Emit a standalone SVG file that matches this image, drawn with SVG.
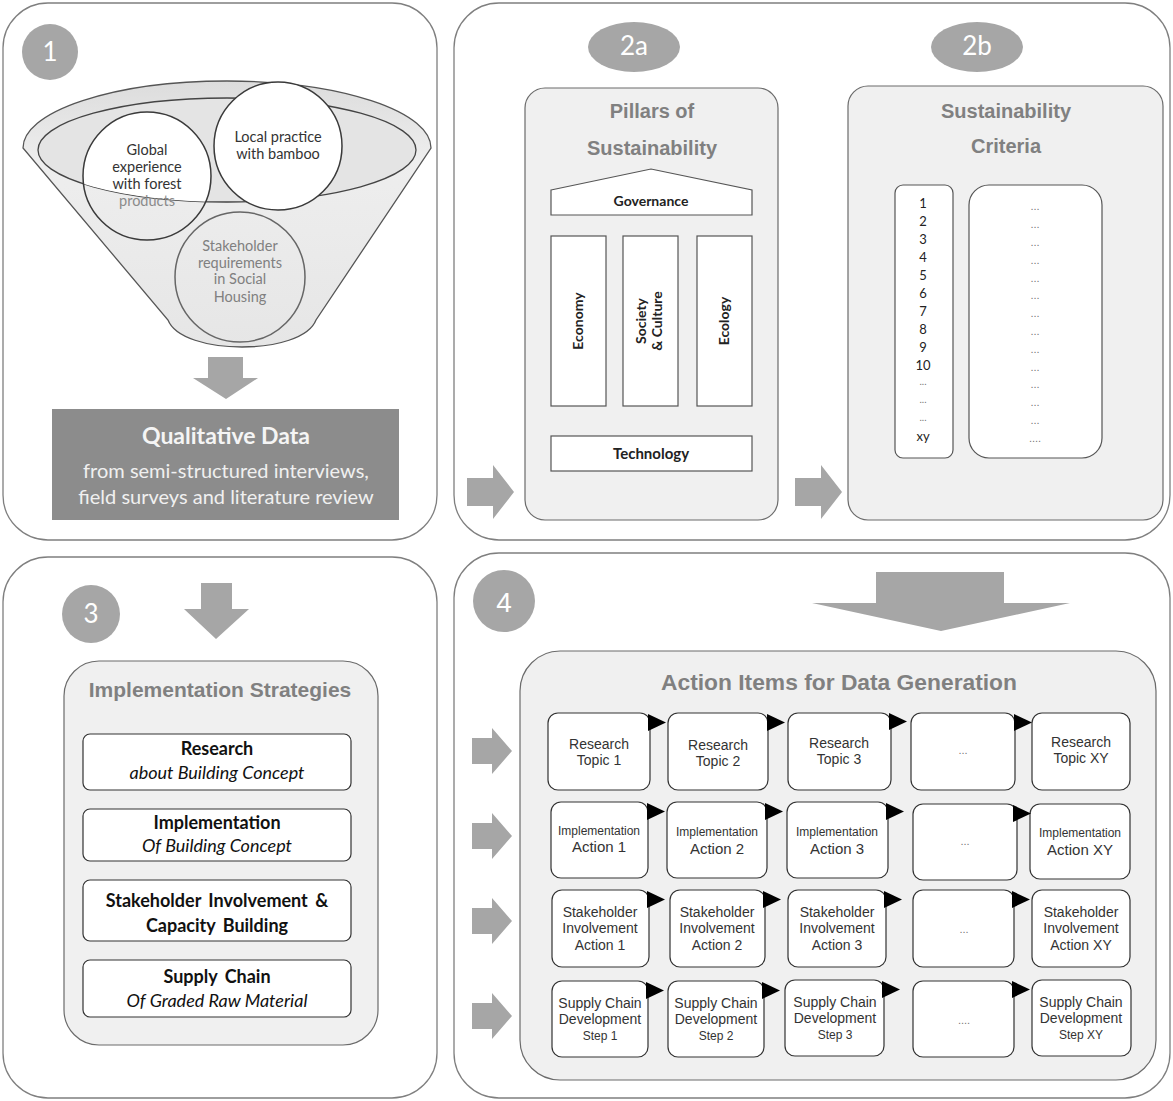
<svg xmlns="http://www.w3.org/2000/svg" width="1173" height="1101" viewBox="0 0 1173 1101">
<defs>
<style>
.panel{fill:#fff;stroke:#7f7f7f;stroke-width:1.3}
.inner{fill:#f0f0f0;stroke:#6b6b6b;stroke-width:1.2}
.badge{fill:#a6a6a6}
.badgeT{fill:#fff;font-family:Lato,"Open Sans",sans-serif;font-size:26px;text-anchor:middle}
.arrow{fill:#a6a6a6}
.title{font-family:"Liberation Sans",Arial,sans-serif;font-weight:bold;fill:#808080;text-anchor:middle}
.wbox{fill:#fff;stroke:#333;stroke-width:1.2}
.cal{font-family:Lato,"Open Sans",sans-serif;text-anchor:middle}
.ar{font-family:"Liberation Sans",Arial,sans-serif;fill:#333;text-anchor:middle;font-size:14px}
.sm{font-size:12px}
.big{font-size:15px}
.dots{font-family:"Liberation Sans",Arial,sans-serif;fill:#777;text-anchor:middle;font-size:11px}
.tri{fill:#000}
.circ{fill:none;stroke:#3a3a3a;stroke-width:1.5}
</style>
<clipPath id="innerClip"><ellipse cx="227" cy="150" rx="189" ry="52"/></clipPath>
<linearGradient id="fun" x1="0" y1="0" x2="0" y2="1">
<stop offset="0" stop-color="#dcdcdc"/>
<stop offset="0.3" stop-color="#eeeeee"/>
<stop offset="1" stop-color="#e6e6e6"/>
</linearGradient>
<path id="arrBig" d="M0,-14 H26 V-27 L47,0 L26,27 V14 H0 Z"/>
<path id="arrSm" d="M0,-13 H20 V-23 L40,0 L20,23 V13 H0 Z"/>
<path id="tri" d="M0,0 V17 L18,8.5 Z"/>
</defs>

<!-- Panel 1 -->
<g id="panel1">
<rect class="panel" x="3" y="3" width="434" height="537" rx="45"/>
<circle class="badge" cx="50" cy="52" r="28"/>
<text class="badgeT" x="50" y="61">1</text>
<path d="M 23,148 A 204,67 0 0 1 431,148 L 316,320 C 302,356 182,356 168,320 Z" fill="url(#fun)" stroke="#555" stroke-width="1.3"/>
<ellipse cx="227" cy="150" rx="189" ry="52" fill="#e4e4e4" stroke="#444" stroke-width="1.3"/>
<circle cx="147" cy="176" r="64" fill="#fff" clip-path="url(#innerClip)"/>
<circle class="circ" cx="147" cy="176" r="64"/>
<circle cx="278" cy="146" r="64" fill="#fff" stroke="#3a3a3a" stroke-width="1.5"/>
<circle cx="240" cy="277" r="65" fill="none" stroke="#666" stroke-width="1.5"/>
<g class="cal" font-size="14.5" fill="#333">
<text x="147" y="155">Global</text>
<text x="147" y="172">experience</text>
<text x="147" y="189">with forest</text>
<text x="147" y="206" fill="#8a8a8a">products</text>
<text x="278" y="142">Local practice</text>
<text x="278" y="159">with bamboo</text>
</g>
<g class="cal" font-size="14.5" fill="#808080">
<text x="240" y="251">Stakeholder</text>
<text x="240" y="268">requirements</text>
<text x="240" y="284">in Social</text>
<text x="240" y="302">Housing</text>
</g>
<path class="arrow" fill="#b3b3b3" d="M208,357 H243 V378 H258 L226,399 L193,378 H208 Z"/>
<rect x="52" y="409" width="347" height="111" fill="#8c8c8c"/>
<text class="cal" x="226" y="444" font-size="23" font-weight="bold" fill="#f5f5f5">Qualitative Data</text>
<text class="cal" x="226" y="478" font-size="20" fill="#f0f0f0">from semi-structured interviews,</text>
<text class="cal" x="226" y="504" font-size="20" fill="#f0f0f0">field surveys and literature review</text>
</g>

<!-- Panel 2 -->
<g id="panel2">
<rect class="panel" x="454" y="3" width="716" height="537" rx="45"/>
<ellipse class="badge" cx="634" cy="47" rx="46" ry="25"/>
<text class="badgeT" x="634" y="55" font-size="22">2a</text>
<ellipse class="badge" cx="977" cy="47" rx="46" ry="25"/>
<text class="badgeT" x="977" y="55" font-size="22">2b</text>
</g>

<g id="pillars">
<rect class="inner" x="525" y="88" width="253" height="432" rx="20"/>
<text class="title" x="652" y="118" font-size="20">Pillars of</text>
<text class="title" x="652" y="155" font-size="20">Sustainability</text>
<polygon points="551,190 651,169 752,190 752,215 551,215" fill="#fff" stroke="#555" stroke-width="1.2"/>
<text class="cal" x="651" y="206" font-size="14" font-weight="bold" fill="#222">Governance</text>
<rect x="551" y="236" width="55" height="170" fill="#fff" stroke="#555" stroke-width="1.2"/>
<rect x="623" y="236" width="55" height="170" fill="#fff" stroke="#555" stroke-width="1.2"/>
<rect x="697" y="236" width="55" height="170" fill="#fff" stroke="#555" stroke-width="1.2"/>
<g class="cal" font-size="14" font-weight="bold" fill="#222">
<text transform="translate(583,321) rotate(-90)">Economy</text>
<text transform="translate(646,321) rotate(-90)">Society</text>
<text transform="translate(662,321) rotate(-90)">&amp; Culture</text>
<text transform="translate(729,321) rotate(-90)">Ecology</text>
</g>
<rect x="551" y="436" width="201" height="35" fill="#fff" stroke="#555" stroke-width="1.2"/>
<text class="cal" x="651" y="459" font-size="15" font-weight="bold" fill="#222">Technology</text>
</g>

<g id="criteria">
<rect class="inner" x="848" y="86" width="315" height="434" rx="20"/>
<text class="title" x="1006" y="118" font-size="20">Sustainability</text>
<text class="title" x="1006" y="153" font-size="20">Criteria</text>
<rect x="895" y="185" width="58" height="273" rx="8" fill="#fff" stroke="#555" stroke-width="1.2"/>
<rect x="969" y="185" width="133" height="273" rx="20" fill="#fff" stroke="#555" stroke-width="1.2"/>
<g class="cal" font-size="13" fill="#222">
<text x="923" y="208">1</text>
<text x="923" y="226">2</text>
<text x="923" y="244">3</text>
<text x="923" y="262">4</text>
<text x="923" y="280">5</text>
<text x="923" y="298">6</text>
<text x="923" y="316">7</text>
<text x="923" y="334">8</text>
<text x="923" y="352">9</text>
<text x="923" y="370">10</text>
<text x="923" y="385" font-size="10" fill="#777">...</text>
<text x="923" y="403" font-size="10" fill="#777">...</text>
<text x="923" y="421" font-size="10" fill="#777">...</text>
<text x="923" y="441">xy</text>
</g>
<g class="dots" font-size="10">
<text x="1035" y="210">...</text>
<text x="1035" y="228">...</text>
<text x="1035" y="246">...</text>
<text x="1035" y="264">...</text>
<text x="1035" y="282">...</text>
<text x="1035" y="299">...</text>
<text x="1035" y="317">...</text>
<text x="1035" y="335">...</text>
<text x="1035" y="353">...</text>
<text x="1035" y="371">...</text>
<text x="1035" y="388">...</text>
<text x="1035" y="406">...</text>
<text x="1035" y="424">...</text>
<text x="1035" y="442">....</text>
</g>
</g>

<!-- Panel 3 -->
<g id="panel3">
<rect class="panel" x="3" y="557" width="434" height="541" rx="45"/>
<circle class="badge" cx="91" cy="614" r="29"/>
<text class="badgeT" x="91" y="623">3</text>
</g>
<g id="strategies">
<rect class="inner" x="64" y="661" width="314" height="384" rx="35"/>
<text class="title" x="220" y="697" font-size="21">Implementation Strategies</text>
<rect class="wbox" x="83" y="734" width="268" height="56" rx="7"/>
<text class="cal" x="217" y="755" font-size="18" font-weight="bold" fill="#111">Research</text>
<text class="cal" x="217" y="779" font-size="18" font-style="italic" fill="#111">about Building Concept</text>
<rect class="wbox" x="83" y="809" width="268" height="52" rx="7"/>
<text class="cal" x="217" y="829" font-size="18" font-weight="bold" fill="#111">Implementation</text>
<text class="cal" x="217" y="852" font-size="18" font-style="italic" fill="#111">Of Building Concept</text>
<rect class="wbox" x="83" y="880" width="268" height="61" rx="7"/>
<text class="cal" x="217" y="907" font-size="18" font-weight="bold" fill="#111" word-spacing="3">Stakeholder Involvement &amp;</text>
<text class="cal" x="217" y="932" font-size="18" font-weight="bold" fill="#111" word-spacing="3">Capacity Building</text>
<rect class="wbox" x="83" y="960" width="268" height="57" rx="7"/>
<text class="cal" x="217" y="983" font-size="18" font-weight="bold" fill="#111" word-spacing="3">Supply Chain</text>
<text class="cal" x="217" y="1007" font-size="18" font-style="italic" fill="#111">Of Graded Raw Material</text>
</g>

<!-- Panel 4 -->
<g id="panel4">
<rect class="panel" x="454" y="553" width="716" height="545" rx="45"/>
<circle class="badge" cx="504" cy="601" r="31"/>
<text x="504" y="612" fill="#fff" font-family="'Liberation Sans',Arial,sans-serif" font-size="28" text-anchor="middle">4</text>
</g>
<g id="actions">
<rect class="inner" x="520" y="651" width="636" height="429" rx="40"/>
<text class="title" x="839" y="690" font-size="22.8">Action Items for Data Generation</text>
</g>

<g id="row1">
<rect class="wbox" x="548" y="713" width="102" height="77" rx="10"/>
<text class="ar" x="599" y="749">Research</text><text class="ar" x="599" y="765">Topic 1</text>
<rect class="wbox" x="668" y="713" width="100" height="77" rx="10"/>
<text class="ar" x="718" y="750">Research</text><text class="ar" x="718" y="766">Topic 2</text>
<rect class="wbox" x="788" y="713" width="103" height="77" rx="10"/>
<text class="ar" x="839" y="748">Research</text><text class="ar" x="839" y="764">Topic 3</text>
<rect class="wbox" x="911" y="713" width="104" height="77" rx="10"/>
<text class="dots" x="963" y="754">...</text>
<rect class="wbox" x="1032" y="713" width="98" height="77" rx="10"/>
<text class="ar" x="1081" y="747">Research</text><text class="ar" x="1081" y="763">Topic XY</text>
</g>
<g id="row2">
<rect class="wbox" x="551" y="802" width="97" height="76" rx="10"/>
<text class="ar sm" x="599" y="835">Implementation</text><text class="ar big" x="599" y="852">Action 1</text>
<rect class="wbox" x="667" y="802" width="100" height="76" rx="10"/>
<text class="ar sm" x="717" y="836">Implementation</text><text class="ar big" x="717" y="854">Action 2</text>
<rect class="wbox" x="787" y="802" width="101" height="76" rx="10"/>
<text class="ar sm" x="837" y="836">Implementation</text><text class="ar big" x="837" y="854">Action 3</text>
<rect class="wbox" x="913" y="804" width="104" height="76" rx="10"/>
<text class="dots" x="965" y="845">...</text>
<rect class="wbox" x="1030" y="804" width="100" height="75" rx="10"/>
<text class="ar sm" x="1080" y="837">Implementation</text><text class="ar big" x="1080" y="855">Action XY</text>
</g>
<g id="row3">
<rect class="wbox" x="552" y="890" width="97" height="77" rx="10"/>
<text class="ar" x="600" y="917">Stakeholder</text><text class="ar" x="600" y="933">Involvement</text><text class="ar" x="600" y="950">Action 1</text>
<rect class="wbox" x="670" y="890" width="95" height="77" rx="10"/>
<text class="ar" x="717" y="917">Stakeholder</text><text class="ar" x="717" y="933">Involvement</text><text class="ar" x="717" y="950">Action 2</text>
<rect class="wbox" x="788" y="890" width="98" height="77" rx="10"/>
<text class="ar" x="837" y="917">Stakeholder</text><text class="ar" x="837" y="933">Involvement</text><text class="ar" x="837" y="950">Action 3</text>
<rect class="wbox" x="913" y="890" width="101" height="77" rx="10"/>
<text class="dots" x="964" y="933">...</text>
<rect class="wbox" x="1032" y="890" width="98" height="77" rx="10"/>
<text class="ar" x="1081" y="917">Stakeholder</text><text class="ar" x="1081" y="933">Involvement</text><text class="ar" x="1081" y="950">Action XY</text>
</g>
<g id="row4">
<rect class="wbox" x="552" y="981" width="96" height="76" rx="10"/>
<text class="ar" x="600" y="1008">Supply Chain</text><text class="ar" x="600" y="1024">Development</text><text class="ar sm" x="600" y="1040">Step 1</text>
<rect class="wbox" x="668" y="981" width="96" height="76" rx="10"/>
<text class="ar" x="716" y="1008">Supply Chain</text><text class="ar" x="716" y="1024">Development</text><text class="ar sm" x="716" y="1040">Step 2</text>
<rect class="wbox" x="785" y="980" width="99" height="76" rx="10"/>
<text class="ar" x="835" y="1007">Supply Chain</text><text class="ar" x="835" y="1023">Development</text><text class="ar sm" x="835" y="1039">Step 3</text>
<rect class="wbox" x="913" y="981" width="101" height="76" rx="10"/>
<text class="dots" x="964" y="1024">....</text>
<rect class="wbox" x="1032" y="980" width="99" height="76" rx="10"/>
<text class="ar" x="1081" y="1007">Supply Chain</text><text class="ar" x="1081" y="1023">Development</text><text class="ar sm" x="1081" y="1039">Step XY</text>
</g>

<g id="connectors">
<path class="arrow" d="M201,583 H232 V609 H249 L216,639 L184,609 H201 Z"/>
<path class="arrow" d="M876,572 H1004 V603 H1070 L941,631 L812,603 H876 Z"/>
<use href="#arrBig" class="arrow" x="467" y="492"/>
<use href="#arrBig" class="arrow" x="795" y="492"/>
<use href="#arrSm" class="arrow" x="472" y="751"/>
<use href="#arrSm" class="arrow" x="472" y="836"/>
<use href="#arrSm" class="arrow" x="472" y="921"/>
<use href="#arrSm" class="arrow" x="472" y="1016"/>
<use href="#tri" class="tri" x="648" y="714"/>
<use href="#tri" class="tri" x="767" y="714"/>
<use href="#tri" class="tri" x="889" y="713"/>
<use href="#tri" class="tri" x="1014" y="714"/>
<use href="#tri" class="tri" x="647" y="803"/>
<use href="#tri" class="tri" x="765" y="803"/>
<use href="#tri" class="tri" x="886" y="803"/>
<use href="#tri" class="tri" x="1013" y="805"/>
<use href="#tri" class="tri" x="647" y="891"/>
<use href="#tri" class="tri" x="763" y="891"/>
<use href="#tri" class="tri" x="884" y="891"/>
<use href="#tri" class="tri" x="1012" y="891"/>
<use href="#tri" class="tri" x="646" y="982"/>
<use href="#tri" class="tri" x="762" y="982"/>
<use href="#tri" class="tri" x="882" y="981"/>
<use href="#tri" class="tri" x="1012" y="981"/>
</g>
</svg>
